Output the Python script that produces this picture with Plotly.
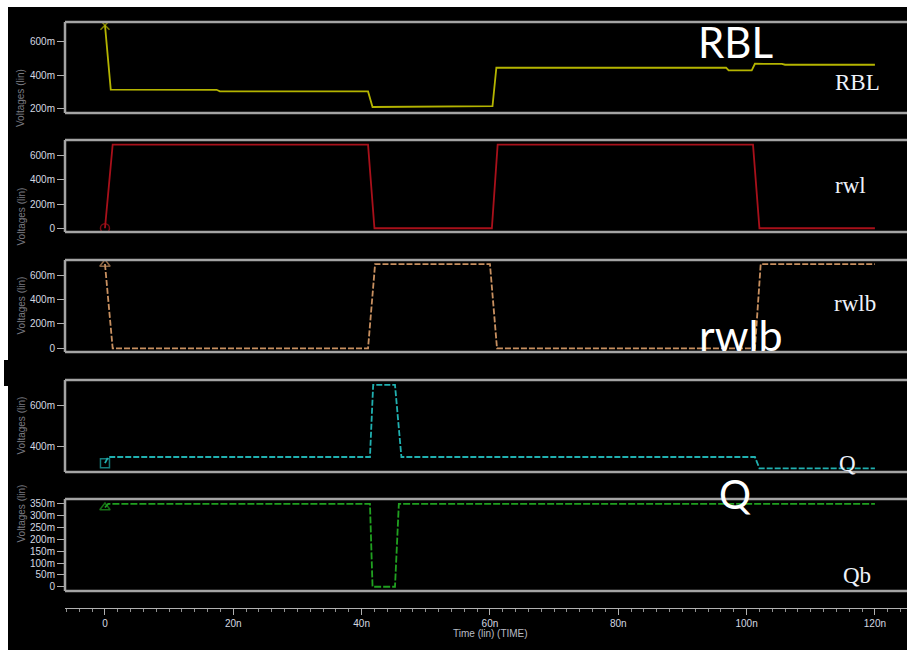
import plotly.graph_objects as go

W, H = 907, 650

# ---------------- data (time in ns, voltage in mV) ----------------
rbl_t = [0, 0.9, 17.4, 17.9, 41.0, 41.7, 60.4, 61.0, 96.8, 97.2, 100.8, 101.3, 105.5, 106.0, 120]
rbl_v = [700, 314, 313, 304, 303, 210, 215, 445, 446, 429, 429, 469, 468, 463, 463]

rwl_t = [0, 1.2, 41.0, 42.0, 60.3, 61.2, 101.0, 102.0, 120]
rwl_v = [0, 692, 692, 0, 0, 692, 692, 0, 0]

rwlb_t = [0, 1.2, 41.0, 42.1, 60.0, 61.1, 101.3, 102.2, 120]
rwlb_v = [690, 0, 0, 690, 690, 0, 0, 690, 690]

q_t = [0, 0.5, 41.3, 41.8, 45.2, 46.2, 101.3, 102.0, 120]
q_v = [320, 350, 350, 701, 701, 350, 350, 295, 295]

qb_t = [0, 0.5, 41.3, 41.7, 45.2, 45.8, 120]
qb_v = [335, 350, 350, 0, 0, 350, 350]

series_names = ["RBL", "rwl", "rwlb", "Q", "Qb"]
series_t = [rbl_t, rwl_t, rwlb_t, q_t, qb_t]
series_v = [rbl_v, rwl_v, rwlb_v, q_v, qb_v]
series_colors = ["#b4b400", "#a8101a", "#c89060", "#20b0b0", "#20a020"]
series_dash = ["solid", "solid", "6px,2px", "6px,2px", "7px,2px"]
series_marker = ["x-thin-open", "circle-open", "triangle-up-open", "square-open", "triangle-up-open"]

# y tick values / labels per panel
y_tickvals = [[200, 400, 600], [0, 200, 400, 600], [0, 200, 400, 600], [400, 600],
              [0, 50, 100, 150, 200, 250, 300, 350]]
y_ticktext = [["200m", "400m", "600m"], ["0", "200m", "400m", "600m"], ["0", "200m", "400m", "600m"],
              ["400m", "600m"], ["0", "50m", "100m", "150m", "200m", "250m", "300m", "350m"]]
y_ranges = [[174, 719], [-31, 730], [-30, 723], [277, 725], [-18, 371]]

x_tickvals = [0, 20, 40, 60, 80, 100, 120]
x_ticktext = ["0", "20n", "40n", "60n", "80n", "100n", "120n"]

# overlay big labels
overlay_text = ["RBL", "rwlb", "Q"]
# in-panel serif labels
panel_labels = ["RBL", "rwl", "rwlb", "Q", "Qb"]

# ---------------- layout geometry (pixels) ----------------
panel_px = [(22, 113), (140, 232), (260, 352), (380, 472), (499, 591)]
x_left_px = 65
time_axis_px = 608

def py(y):
    return 1 - y / H

def px(x):
    return x / W

fig = go.Figure()
for i in range(5):
    n = len(series_t[i])
    fig.add_trace(go.Scatter(
        x=series_t[i], y=series_v[i], name=series_names[i],
        mode="lines+markers",
        line=dict(color=series_colors[i], width=1.8, dash=series_dash[i]),
        marker=dict(symbol=series_marker[i], size=[9] + [0] * (n - 1),
                    color=series_colors[i], line=dict(width=1.5, color=series_colors[i])),
        xaxis="x", yaxis="y" if i == 0 else f"y{i+1}",
        showlegend=False, hoverinfo="skip",
    ))

tick_font = dict(family="Liberation Sans Narrow, Liberation Sans, Arial", size=10, color="#d4d8e0")

layout = dict(
    width=W, height=H, autosize=False,
    margin=dict(l=0, r=0, t=0, b=0, pad=0),
    paper_bgcolor="black", plot_bgcolor="black",
    showlegend=False,
    xaxis=dict(
        domain=[px(x_left_px), 1.0],
        range=[-6.23, 125.0],
        anchor="free", position=py(time_axis_px),
        showline=True, linecolor="#b0b0b0", linewidth=1,
        showgrid=False, zeroline=False, automargin=False,
        tickmode="array", tickvals=x_tickvals, ticktext=x_ticktext,
        ticks="outside", ticklen=6, tickcolor="#b0b0b0", tickwidth=1,
        minor=dict(dtick=2, tick0=0, ticks="outside", ticklen=3, tickcolor="#909090"),
        tickfont=tick_font,
    ),
)

frame_color = "#a4a4a4"
shapes = []
annotations = []
for i in range(5):
    top, bot = panel_px[i]
    key = "yaxis" if i == 0 else f"yaxis{i+1}"
    layout[key] = dict(
        domain=[py(bot), py(top)],
        range=y_ranges[i],
        anchor="x",
        showline=False, showgrid=False, zeroline=False, automargin=False,
        tickmode="array", tickvals=y_tickvals[i], ticktext=y_ticktext[i],
        ticks="outside", ticklen=7, tickcolor="#b0b0b0", tickwidth=1,
        tickfont=tick_font,
    )
    # panel frame: top, bottom and left edges (right edge runs off the picture)
    for (x0, y0, x1, y1) in [(px(x_left_px), py(top), 1.0, py(top)),
                             (px(x_left_px), py(bot), 1.0, py(bot)),
                             (px(x_left_px), py(bot), px(x_left_px), py(top))]:
        shapes.append(dict(type="line", xref="paper", yref="paper",
                           x0=x0, y0=y0, x1=x1, y1=y1,
                           line=dict(color=frame_color, width=2.5), layer="above"))
    annotations.append(dict(text="Voltages (lin)", textangle=-90, xref="paper", yref="paper",
                            x=px(13), y=py((top + bot) / 2), showarrow=False,
                            font=dict(family="Liberation Sans", size=10, color="#7a7a80")))

# in-panel serif labels
label_pos = [(857, 82), (850, 185), (855, 303), (847, 463), (857, 575)]
for txt, (lx, ly) in zip(panel_labels, label_pos):
    annotations.append(dict(text=txt, xref="paper", yref="paper", x=px(lx), y=py(ly),
                            showarrow=False, xanchor="center", yanchor="middle",
                            font=dict(family="Liberation Serif, Times New Roman", size=23, color="#eef2fa")))

# time axis title
annotations.append(dict(text="Time (lin) (TIME)", xref="paper", yref="paper", x=px(490), y=py(641),
                        showarrow=False, font=dict(family="Liberation Sans Narrow, Liberation Sans", size=10, color="#b8bcc4")))

# big overlay labels
overlay_pos = [(735, 42), (741, 335), (735, 494)]
overlay_size = [42, 43, 40]
for txt, (lx, ly), sz in zip(overlay_text, overlay_pos, overlay_size):
    annotations.append(dict(text=txt, xref="paper", yref="paper", x=px(lx), y=py(ly),
                            showarrow=False, xanchor="center", yanchor="middle",
                            font=dict(family="Lato, Open Sans", size=sz, color="white")))

# white screenshot borders
shapes.append(dict(type="rect", xref="paper", yref="paper", x0=0, x1=1, y0=py(7), y1=1,
                   fillcolor="white", line=dict(width=0), layer="above"))
shapes.append(dict(type="rect", xref="paper", yref="paper", x0=0, x1=px(8), y0=0, y1=1,
                   fillcolor="white", line=dict(width=0), layer="above"))
shapes.append(dict(type="rect", xref="paper", yref="paper", x0=px(4), x1=px(9), y0=py(386), y1=py(360),
                   fillcolor="black", line=dict(width=0), layer="above"))

layout["shapes"] = shapes
layout["annotations"] = annotations
fig.update_layout(**layout)

fig.write_html("out.html")
